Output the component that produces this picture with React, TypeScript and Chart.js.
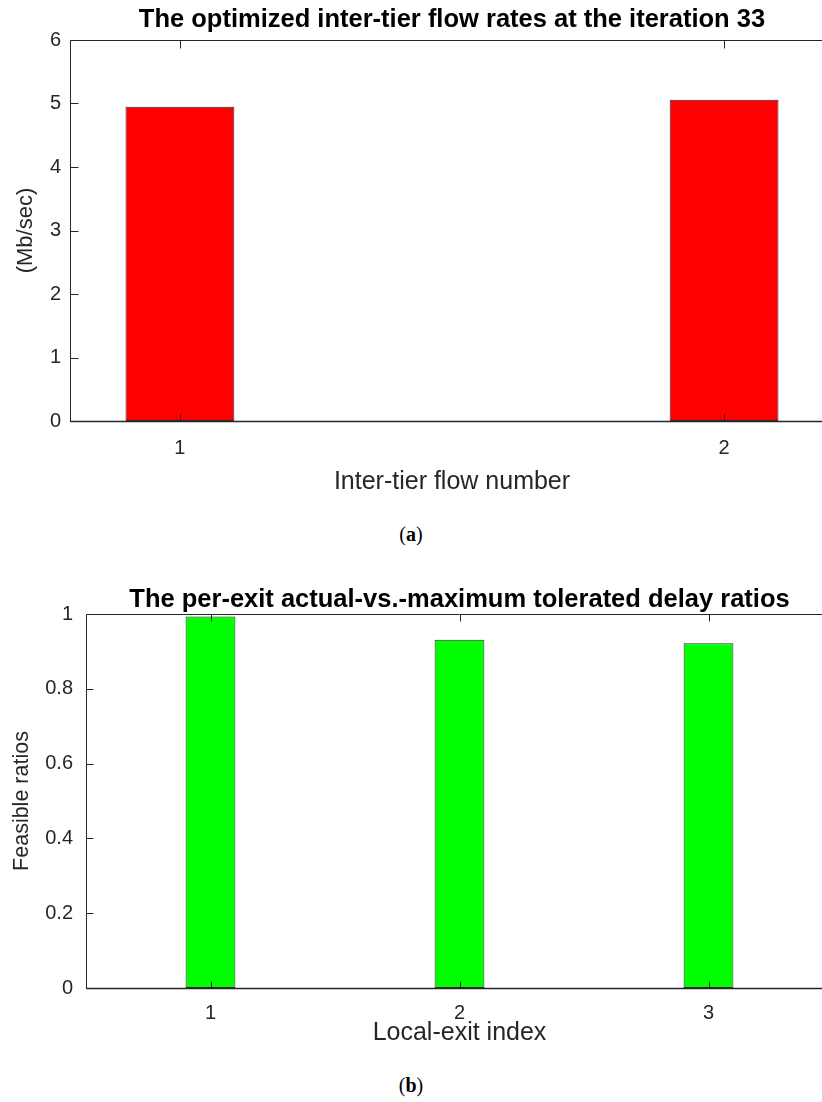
import React, { useEffect, useRef } from 'react';
import { Chart, registerables } from 'chart.js';

Chart.register(...registerables);

// ---- Data (a) ----
const flowNumbers = [1, 2];
const flowRates = [4.95, 5.06];
const flowYTicks = [0, 1, 2, 3, 4, 5, 6];

// ---- Data (b) ----
const exitIndices = [1, 2, 3];
const delayRatios = [0.993, 0.931, 0.922];
const ratioYTicks = [0, 0.2, 0.4, 0.6, 0.8, 1];

const FONT = '"Liberation Sans", Arial, Helvetica, sans-serif';
const AXIS_COLOR = '#262626';

const matlabAxes = {
  id: 'matlabAxes',
  afterDatasetsDraw(chart: any, _args: any, opts: any) {
    const { ctx, chartArea: a, scales } = chart;
    const xs = scales.x;
    const ys = scales.y;
    const len = opts.tickLength || 8;
    const L = Math.round(a.left) + 0.5;
    const R = Math.round(a.right) - 0.5;
    const T = Math.round(a.top) + 0.5;
    const B = Math.round(a.bottom) + 0.5;
    ctx.save();
    ctx.strokeStyle = AXIS_COLOR;
    ctx.lineWidth = 1;
    ctx.beginPath();
    ctx.moveTo(L, T);
    ctx.lineTo(R, T);
    ctx.lineTo(R, B);
    ctx.lineTo(L, B);
    ctx.closePath();
    xs.ticks.forEach((t: any) => {
      const px = Math.round(xs.getPixelForValue(t.value)) + 0.5;
      ctx.moveTo(px, B);
      ctx.lineTo(px, B - len);
      ctx.moveTo(px, T);
      ctx.lineTo(px, T + len);
    });
    ys.ticks.forEach((t: any) => {
      const py = Math.round(ys.getPixelForValue(t.value)) + 0.5;
      ctx.moveTo(L, py);
      ctx.lineTo(L + len, py);
      ctx.moveTo(R, py);
      ctx.lineTo(R - len, py);
    });
    ctx.stroke();
    // slightly heavier baseline like MATLAB's bar baseline
    ctx.lineWidth = 1.6;
    ctx.beginPath();
    ctx.moveTo(L, B);
    ctx.lineTo(R, B);
    ctx.stroke();
    ctx.restore();
  },
};

type PanelProps = {
  categories: number[];
  values: number[];
  yTicks: number[];
  xMin: number;
  xMax: number;
  color: string;
  title: string;
  xLabel: string;
  yLabel: string;
  width: number;
  height: number;
  top: number;
  titlePad: { top: number; bottom: number };
  xAxisHeight: number;
  yAxisWidth: number;
  xTickPad: number;
  yTickPad: number;
  xTitlePad: number;
  yTitlePad: number;
  yTitleSize: number;
  tickLength: number;
};

function BarPanel(p: PanelProps) {
  const ref = useRef<HTMLCanvasElement | null>(null);
  useEffect(() => {
    if (!ref.current) return;
    const chart = new Chart(ref.current, {
      type: 'bar',
      data: {
        datasets: [
          {
            data: p.categories.map((c, i) => ({ x: c, y: p.values[i] })),
            backgroundColor: p.color,
            borderColor: '#2b2b2b',
            borderWidth: 1,
            borderSkipped: false,
            barPercentage: 0.2,
            categoryPercentage: 1,
          },
        ],
      },
      options: {
        animation: false,
        responsive: false,
        layout: { padding: 0 },
        plugins: {
          legend: { display: false },
          tooltip: { enabled: false },
          title: {
            display: true,
            text: p.title,
            fullSize: false,
            color: '#000000',
            font: { family: FONT, size: 25.5, weight: 'bold', lineHeight: 1 },
            padding: p.titlePad,
          },
          matlabAxes: { tickLength: p.tickLength },
        } as any,
        scales: {
          x: {
            type: 'linear',
            min: p.xMin,
            max: p.xMax,
            offset: false,
            grid: { display: false, drawTicks: false },
            border: { display: false },
            ticks: {
              color: AXIS_COLOR,
              font: { family: FONT, size: 20 },
              padding: p.xTickPad,
              autoSkip: false,
              maxRotation: 0,
              callback: (v: any) => String(v),
            },
            afterBuildTicks: (s: any) => {
              s.ticks = p.categories.map((v) => ({ value: v }));
            },
            afterFit: (s: any) => {
              s.height = p.xAxisHeight;
            },
            title: {
              display: true,
              text: p.xLabel,
              color: AXIS_COLOR,
              font: { family: FONT, size: 25 },
              padding: { top: 0, bottom: p.xTitlePad },
            },
          },
          y: {
            type: 'linear',
            min: p.yTicks[0],
            max: p.yTicks[p.yTicks.length - 1],
            grid: { display: false, drawTicks: false },
            border: { display: false },
            ticks: {
              color: AXIS_COLOR,
              font: { family: FONT, size: 20 },
              padding: p.yTickPad,
              callback: (v: any) => String(v),
            },
            afterBuildTicks: (s: any) => {
              s.ticks = p.yTicks.map((v) => ({ value: v }));
            },
            afterFit: (s: any) => {
              s.width = p.yAxisWidth;
            },
            title: {
              display: true,
              text: p.yLabel,
              color: AXIS_COLOR,
              font: { family: FONT, size: p.yTitleSize },
              padding: { top: p.yTitlePad, bottom: 0 },
            },
          },
        },
      } as any,
      plugins: [matlabAxes as any],
    });
    return () => chart.destroy();
  }, []);
  return (
    <canvas
      ref={ref}
      width={p.width}
      height={p.height}
      style={{ position: 'absolute', left: 0, top: p.top, width: p.width, height: p.height }}
    />
  );
}

const captionStyle: React.CSSProperties = {
  position: 'absolute',
  left: 0,
  width: 822,
  textAlign: 'center',
  fontFamily: '"Liberation Serif", "DejaVu Serif", serif',
  fontSize: 20,
  lineHeight: '20px',
  color: '#000',
};

export default function App() {
  return (
    <div
      style={{
        position: 'absolute',
        left: 0,
        top: 0,
        width: 822,
        height: 1102,
        overflow: 'hidden',
        background: '#ffffff',
      }}
    >
      <BarPanel
        categories={flowNumbers}
        values={flowRates}
        yTicks={flowYTicks}
        xMin={0.798}
        xMax={2.202}
        color="#ff0000"
        title="The optimized inter-tier flow rates at the iteration 33"
        xLabel="Inter-tier flow number"
        yLabel="(Mb/sec)"
        width={834}
        height={500}
        top={0}
        titlePad={{ top: 7, bottom: 7.5 }}
        xAxisHeight={79}
        yAxisWidth={70}
        xTickPad={15}
        yTickPad={9}
        xTitlePad={3}
        yTitlePad={13}
        yTitleSize={22}
        tickLength={8}
      />
      <div style={{ ...captionStyle, top: 524 }}>
        (<b>a</b>)
      </div>
      <BarPanel
        categories={exitIndices}
        values={delayRatios}
        yTicks={ratioYTicks}
        xMin={0.5}
        xMax={3.5}
        color="#00ff00"
        title="The per-exit actual-vs.-maximum tolerated delay ratios"
        xLabel="Local-exit index"
        yLabel="Feasible ratios"
        width={833}
        height={480}
        top={580}
        titlePad={{ top: 7, bottom: 1.5 }}
        xAxisHeight={72}
        yAxisWidth={86}
        xTickPad={13}
        yTickPad={13}
        xTitlePad={12}
        yTitlePad={9.5}
        yTitleSize={21.5}
        tickLength={7}
      />
      <div style={{ ...captionStyle, top: 1075 }}>
        (<b>b</b>)
      </div>
    </div>
  );
}
